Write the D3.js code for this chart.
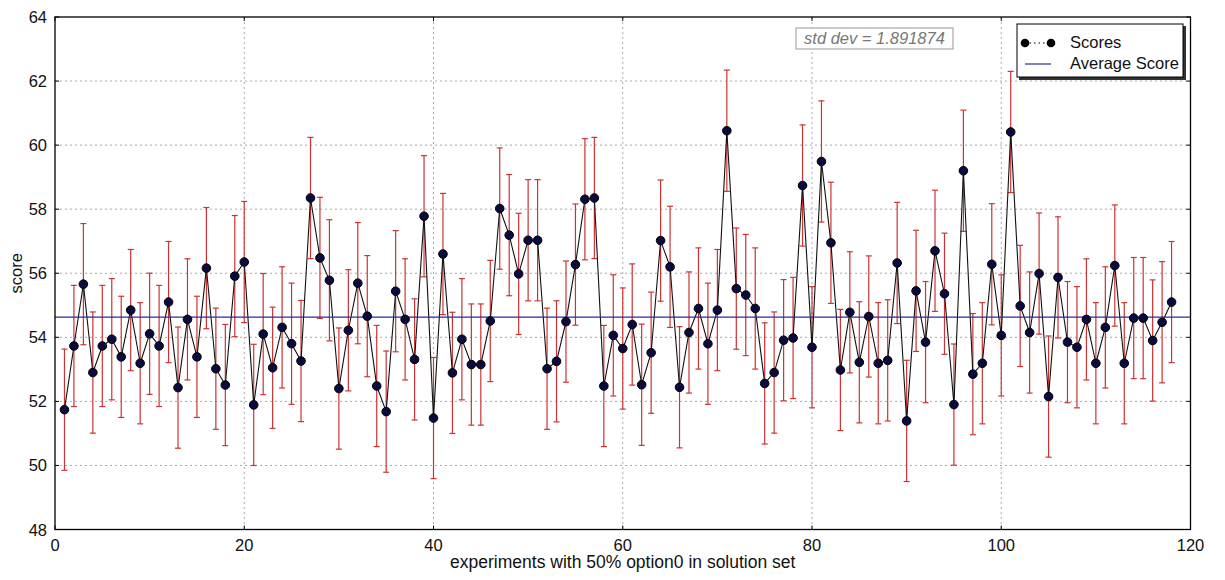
<!DOCTYPE html>
<html>
<head>
<meta charset="utf-8">
<script src="https://cdn.jsdelivr.net/npm/d3@7"></script>
<style>
  html, body { margin: 0; padding: 0; background: #fff; overflow: hidden; }
  svg { display: block; }
  text { font-family: "Liberation Sans", Arial, sans-serif; fill: #111; }
</style>
</head>
<body>
<div class="graph-div"></div>
<script>
// experiment numbers 1..118 and their scores
var experiments = d3.range(1, 119);
var scores = [
  51.74, 53.73, 55.66, 52.90, 53.73, 53.94, 53.39, 54.85, 53.19, 54.11,
  53.73, 55.10, 52.43, 54.56, 53.39, 56.16, 53.02, 52.51, 55.91, 56.35,
  51.89, 54.10, 53.05, 54.31, 53.80, 53.26, 58.35, 56.48, 55.78, 52.40,
  54.22, 55.69, 54.66, 52.48, 51.68, 55.44, 54.56, 53.31, 57.78, 51.48,
  56.60, 52.89, 53.94, 53.15, 53.15, 54.51, 58.02, 57.19, 55.98, 57.03,
  57.03, 53.02, 53.25, 54.49, 56.27, 58.31, 58.35, 52.48, 54.06, 53.65,
  54.40, 52.52, 53.52, 57.02, 56.20, 52.44, 54.15, 54.90, 53.80, 54.85,
  60.45, 55.52, 55.32, 54.90, 52.56, 52.90, 53.91, 53.98, 58.74, 53.69,
  59.49, 56.95, 52.98, 54.78, 53.22, 54.65, 53.19, 53.28, 56.32, 51.39,
  55.45, 53.85, 56.70, 55.36, 51.90, 59.20, 52.85, 53.19, 56.28, 54.06,
  60.41, 54.98, 54.15, 55.99, 52.15, 55.87, 53.85, 53.69, 54.56, 53.19,
  54.31, 56.24, 53.19, 54.60, 54.60, 53.90, 54.47, 55.10
];
var stdDev = 1.891874;
var averageScore = 54.63;

var xTickValues = [0, 20, 40, 60, 80, 100, 120];
var yTickValues = [48, 50, 52, 54, 56, 58, 60, 62, 64];
var xLabel = "experiments with 50% option0 in solution set";
var yLabel = "score";
var legendLabels = ["Scores", "Average Score"];

var outerWidth = 1225;
var outerHeight = 580;
var margin = {left: 55, top: 17, right: 34.5, bottom: 50.5};
var innerWidth = outerWidth - margin.left - margin.right;
var innerHeight = outerHeight - margin.top - margin.bottom;

var data = experiments.map(function(e, i) { return {x: e, y: scores[i]}; });

var svg = d3.select(".graph-div").append("svg")
  .attr("width", outerWidth)
  .attr("height", outerHeight);

var g = svg.append("g")
  .attr("transform", "translate(" + margin.left + "," + margin.top + ")");

var xScale = d3.scaleLinear().domain([0, 120]).range([0, innerWidth]);
var yScale = d3.scaleLinear().domain([48, 64]).range([innerHeight, 0]);

// dotted grid
g.append("g").selectAll("line.vgrid")
  .data(xTickValues.slice(1, -1))
  .enter().append("line")
  .attr("x1", function(d) { return xScale(d); })
  .attr("x2", function(d) { return xScale(d); })
  .attr("y1", 0).attr("y2", innerHeight)
  .attr("stroke", "#aaa").attr("stroke-dasharray", "2,3");

g.append("g").selectAll("line.hgrid")
  .data(yTickValues.slice(1, -1))
  .enter().append("line")
  .attr("x1", 0).attr("x2", innerWidth)
  .attr("y1", function(d) { return yScale(d); })
  .attr("y2", function(d) { return yScale(d); })
  .attr("stroke", "#aaa").attr("stroke-dasharray", "2,3");

// error bars
var errG = g.append("g").attr("stroke", "#cc3333").attr("stroke-width", 1.2);
errG.selectAll("line.err")
  .data(data).enter().append("line")
  .attr("x1", function(d) { return xScale(d.x); })
  .attr("x2", function(d) { return xScale(d.x); })
  .attr("y1", function(d) { return yScale(d.y - stdDev); })
  .attr("y2", function(d) { return yScale(d.y + stdDev); });
[-1, 1].forEach(function(s) {
  errG.selectAll("line.cap" + s)
    .data(data).enter().append("line")
    .attr("x1", function(d) { return xScale(d.x) - 3; })
    .attr("x2", function(d) { return xScale(d.x) + 3; })
    .attr("y1", function(d) { return yScale(d.y + s * stdDev); })
    .attr("y2", function(d) { return yScale(d.y + s * stdDev); });
});

// scores line
var line = d3.line()
  .x(function(d) { return xScale(d.x); })
  .y(function(d) { return yScale(d.y); });

g.append("path")
  .attr("d", line(data))
  .attr("fill", "none")
  .attr("stroke", "#111")
  .attr("stroke-width", 1.1);

// average
g.append("line")
  .attr("x1", 0).attr("x2", innerWidth)
  .attr("y1", yScale(averageScore)).attr("y2", yScale(averageScore))
  .attr("stroke", "#2a2aa0").attr("stroke-width", 1.2);

// markers
g.append("g").selectAll("circle")
  .data(data).enter().append("circle")
  .attr("cx", function(d) { return xScale(d.x); })
  .attr("cy", function(d) { return yScale(d.y); })
  .attr("r", 4.3)
  .attr("fill", "#0a0a40")
  .attr("stroke", "#000")
  .attr("stroke-width", 1);

// frame with inward ticks
g.append("rect")
  .attr("width", innerWidth).attr("height", innerHeight)
  .attr("fill", "none").attr("stroke", "#000").attr("stroke-width", 1.3);

var tickG = g.append("g").attr("stroke", "#000");
xTickValues.forEach(function(v) {
  tickG.append("line").attr("x1", xScale(v)).attr("x2", xScale(v))
    .attr("y1", innerHeight).attr("y2", innerHeight - 4);
  tickG.append("line").attr("x1", xScale(v)).attr("x2", xScale(v))
    .attr("y1", 0).attr("y2", 4);
});
yTickValues.forEach(function(v) {
  tickG.append("line").attr("x1", 0).attr("x2", 4)
    .attr("y1", yScale(v)).attr("y2", yScale(v));
  tickG.append("line").attr("x1", innerWidth).attr("x2", innerWidth - 4)
    .attr("y1", yScale(v)).attr("y2", yScale(v));
});

// tick labels
g.append("g").selectAll("text")
  .data(xTickValues).enter().append("text")
  .attr("x", function(d) { return xScale(d); })
  .attr("y", innerHeight + 21)
  .attr("text-anchor", "middle")
  .style("font-size", "16.5px")
  .text(function(d) { return d; });

g.append("g").selectAll("text")
  .data(yTickValues).enter().append("text")
  .attr("x", -8)
  .attr("y", function(d) { return yScale(d) + 6; })
  .attr("text-anchor", "end")
  .style("font-size", "16.5px")
  .text(function(d) { return d; });

// axis labels
svg.append("text")
  .attr("x", margin.left + innerWidth / 2)
  .attr("y", 568)
  .attr("text-anchor", "middle")
  .style("font-size", "17.5px")
  .text(xLabel);

svg.append("text")
  .attr("transform", "translate(22," + (margin.top + innerHeight / 2) + ") rotate(-90)")
  .attr("text-anchor", "middle")
  .style("font-size", "16.5px")
  .text(yLabel);

// std dev box
var sd = svg.append("g").attr("transform", "translate(796,28)");
sd.append("rect").attr("width", 157).attr("height", 21)
  .attr("fill", "#fff").attr("stroke", "#999");
sd.append("text").attr("x", 78.5).attr("y", 16)
  .attr("text-anchor", "middle")
  .style("font-size", "16.5px").style("font-style", "italic")
  .style("fill", "#777")
  .text("std dev = " + stdDev);

// legend
var lg = svg.append("g").attr("transform", "translate(1017,24)");
lg.append("rect").attr("x", 2).attr("y", 2).attr("width", 167).attr("height", 54)
  .attr("fill", "#333");
lg.append("rect").attr("width", 166).attr("height", 53)
  .attr("fill", "#fff").attr("stroke", "#000").attr("stroke-width", 1);
lg.append("line").attr("x1", 8).attr("x2", 34).attr("y1", 19).attr("y2", 19)
  .attr("stroke", "#000").attr("stroke-dasharray", "1.5,3");
[8, 34].forEach(function(cx) {
  lg.append("circle").attr("cx", cx).attr("cy", 19).attr("r", 4.3)
    .attr("fill", "#000");
});
lg.append("line").attr("x1", 8).attr("x2", 34).attr("y1", 40).attr("y2", 40)
  .attr("stroke", "#2a2aa0").attr("stroke-width", 1.2);
lg.selectAll("text.lab")
  .data(legendLabels).enter().append("text")
  .attr("x", 53)
  .attr("y", function(d, i) { return 24 + i * 21; })
  .style("font-size", "16.5px")
  .text(function(d) { return d; });
</script>
</body>
</html>
